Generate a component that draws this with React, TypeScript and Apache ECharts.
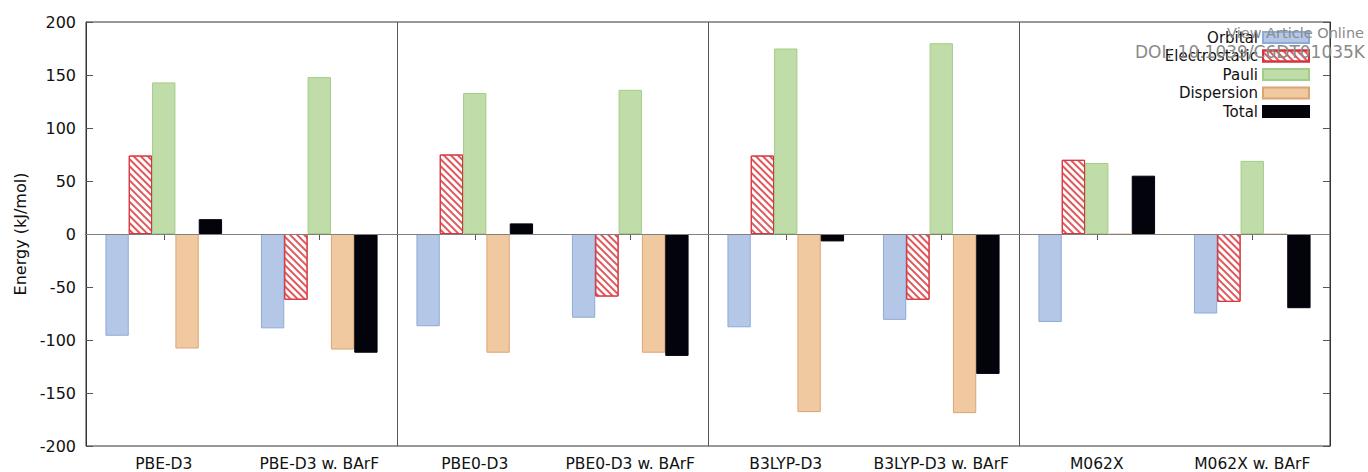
import React, { useEffect, useRef } from "react";
import * as echarts from "echarts";

const categories = [
  "PBE-D3",
  "PBE-D3 w. BArF",
  "PBE0-D3",
  "PBE0-D3 w. BArF",
  "B3LYP-D3",
  "B3LYP-D3 w. BArF",
  "M062X",
  "M062X w. BArF",
];
const orbital = [-96, -89, -87, -79, -88, -81, -83, -75];
const electrostatic = [74, -62, 75, -59, 74, -62, 70, -64];
const pauli = [143, 148, 133, 136, 175, 180, 67, 69];
const dispersion = [-108, -109, -112, -112, -168, -169, -0.5, -0.5];
const total = [14, -112, 10, -115, -7, -132, 55, -70];
const legendNames = ["Orbital", "Electrostatic", "Pauli", "Dispersion", "Total"];

const FONT = "DejaVu Sans";

export default function App() {
  const ref = useRef<HTMLDivElement>(null);
  useEffect(() => {
    const chart = echarts.init(ref.current!, null, { renderer: "svg" });
    const barCommon = { type: "bar", barGap: "0%", barCategoryGap: "25%", xAxisIndex: 0, yAxisIndex: 0 };
    chart.setOption({
      animation: false,
      backgroundColor: "#ffffff",
      textStyle: { fontFamily: FONT },
      grid: { left: 86, right: 38, top: 22, bottom: 26, show: true, borderColor: "#333", borderWidth: 1 },
      legend: {
        right: 58,
        top: 30,
        padding: 0,
        orient: "vertical",
        align: "right",
        icon: "rect",
        itemWidth: 46,
        itemHeight: 11,
        itemGap: 3.5,
        itemTextGap: 7,
        textStyle: { fontSize: 15, lineHeight: 15, color: "#111", fontFamily: FONT },
        data: legendNames,
      },
      xAxis: [
        {
          type: "category",
          data: categories,
          position: "bottom",
          axisLine: { show: true, lineStyle: { color: "#333" } },
          axisTick: { show: true, inside: true, alignWithLabel: true, length: 6, lineStyle: { color: "#555" } },
          axisLabel: { interval: 0, hideOverlap: false, fontSize: 15.5, color: "#111", margin: 10, fontFamily: FONT },
          splitLine: {
            show: true,
            interval: (i: number) => i % 2 === 0,
            lineStyle: { color: "#555", width: 1 },
          },
        },
        {
          type: "category",
          data: categories,
          position: "top",
          axisLine: { show: false },
          axisTick: { show: true, inside: true, alignWithLabel: true, length: 6, lineStyle: { color: "#555" } },
          axisLabel: { show: false },
          splitLine: { show: false },
        },
      ],
      yAxis: [
        {
          type: "value",
          min: -200,
          max: 200,
          interval: 50,
          name: "Energy (kJ/mol)",
          nameLocation: "middle",
          nameGap: 57,
          nameTextStyle: { fontSize: 16, color: "#111", fontFamily: FONT },
          axisLine: { show: true, lineStyle: { color: "#333" } },
          axisTick: { show: true, inside: true, length: 7, lineStyle: { color: "#555" } },
          axisLabel: { fontSize: 16, color: "#111", margin: 10, fontFamily: FONT },
          splitLine: { show: false },
        },
        {
          type: "value",
          min: -200,
          max: 200,
          interval: 50,
          position: "right",
          axisLine: { show: true, lineStyle: { color: "#333" } },
          axisTick: { show: true, inside: true, length: 7, lineStyle: { color: "#555" } },
          axisLabel: { show: false },
          splitLine: { show: false },
        },
      ],
      series: [
        {
          ...barCommon,
          name: "Orbital",
          data: orbital,
          itemStyle: { color: "#b4c7e7", borderColor: "#8eaad8", borderWidth: 1 },
        },
        {
          ...barCommon,
          name: "Electrostatic",
          data: electrostatic,
          itemStyle: {
            color: "#ffffff",
            borderColor: "#d6333b",
            borderWidth: 1,
            decal: {
              symbol: "rect",
              color: "#e0575c",
              backgroundColor: "#ffffff",
              dashArrayX: [1, 0],
              dashArrayY: [2, 3],
              symbolSize: 1,
              rotation: Math.PI / 4,
            },
          },
        },
        {
          ...barCommon,
          name: "Pauli",
          data: pauli,
          itemStyle: { color: "#c0dca8", borderColor: "#a2cd87", borderWidth: 1 },
        },
        {
          ...barCommon,
          name: "Dispersion",
          data: dispersion,
          itemStyle: { color: "#f0c9a0", borderColor: "#dca473", borderWidth: 1 },
        },
        {
          ...barCommon,
          name: "Total",
          data: total,
          itemStyle: { color: "#03030c", borderColor: "#03030c", borderWidth: 1 },
          markLine: {
            silent: true,
            symbol: "none",
            label: { show: false },
            lineStyle: { color: "#808080", type: "solid", width: 1.2 },
            data: [{ yAxis: 0 }],
          },
        },
      ],
      graphic: [
        {
          type: "text",
          right: 4,
          top: 25,
          style: { text: "View Article Online", fontSize: 14.5, fill: "#8a8a8a", fontFamily: FONT },
          z: 100,
        },
        {
          type: "text",
          right: 3,
          top: 43,
          style: { text: "DOI: 10.1039/C6DT01035K", fontSize: 17, fill: "#8a8a8a", fontFamily: FONT },
          z: 100,
        },
      ],
    });
    return () => chart.dispose();
  }, []);
  return <div ref={ref} style={{ position: "fixed", left: 0, top: 0, width: 1368, height: 472 }} />;
}
